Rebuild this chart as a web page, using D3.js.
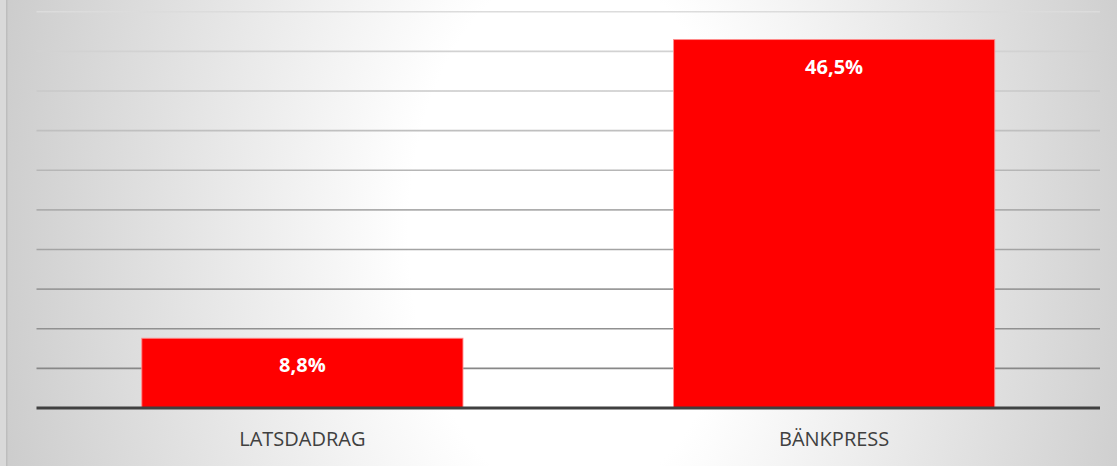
<!DOCTYPE html>
<html>
<head>
<meta charset="utf-8">
<script src="https://cdn.jsdelivr.net/npm/d3@7"></script>
<style>
  html, body { margin: 0; padding: 0; background: #dadada; }
  svg { display: block; }
</style>
</head>
<body>
<svg id="chart" width="1117" height="466"></svg>
<script>
const categories = ["LATSDADRAG", "BÄNKPRESS"];
const values = [8.8, 46.5];
const labels = ["8,8%", "46,5%"];
const gridTicks = [5, 10, 15, 20, 25, 30, 35, 40, 45, 50];

const W = 1117, H = 466;
const svg = d3.select("#chart");
const defs = svg.append("defs");

// background radial gradient
const bg = defs.append("radialGradient")
  .attr("id", "bg")
  .attr("gradientUnits", "userSpaceOnUse")
  .attr("cx", 575).attr("cy", 233).attr("r", 640)
  .attr("gradientTransform", "translate(575,233) scale(1,1.6) translate(-575,-233)");
bg.append("stop").attr("offset", "0").attr("stop-color", "#ffffff");
bg.append("stop").attr("offset", "0.26").attr("stop-color", "#ffffff");
bg.append("stop").attr("offset", "1").attr("stop-color", "#c6c6c6");

// gridline gradient (lighter at top, darker at bottom)
const gg = defs.append("linearGradient")
  .attr("id", "gridGrad")
  .attr("gradientUnits", "userSpaceOnUse")
  .attr("x1", 0).attr("y1", 10).attr("x2", 0).attr("y2", 370);
gg.append("stop").attr("offset", "0").attr("stop-color", "#dcdcdc");
gg.append("stop").attr("offset", "1").attr("stop-color", "#878787");

svg.append("rect").attr("x", 0).attr("y", 0).attr("width", 6).attr("height", H).attr("fill", "#d9d9d9");
svg.append("rect").attr("x", 6).attr("y", 0).attr("width", W - 6).attr("height", H).attr("fill", "url(#bg)");
svg.append("line").attr("x1", 6.75).attr("x2", 6.75).attr("y1", 0).attr("y2", H)
  .attr("stroke", "#bdbdbd").attr("stroke-width", 1.5);

const x = d3.scaleBand().domain(categories).range([36.5, 1100])
  .paddingInner(0.396).paddingOuter(0.198);
const y = d3.scaleLinear().domain([0, 50]).range([408, 11.8]);

// gridlines
svg.append("g").selectAll("line").data(gridTicks).join("line")
  .attr("x1", 36.5).attr("x2", 1100)
  .attr("y1", d => y(d)).attr("y2", d => y(d))
  .attr("stroke", "url(#gridGrad)")
  .attr("stroke-width", 1.6);

// bars
svg.append("g").selectAll("rect").data(values).join("rect")
  .attr("x", (d, i) => x(categories[i]))
  .attr("y", d => y(d))
  .attr("width", x.bandwidth())
  .attr("height", d => y(0) - y(d))
  .attr("fill", "#ff0000")
  .attr("stroke", "rgba(255,140,140,0.9)")
  .attr("stroke-width", 1);

// baseline
svg.append("line").attr("x1", 36.5).attr("x2", 1100)
  .attr("y1", y(0)).attr("y2", y(0))
  .attr("stroke", "#404040").attr("stroke-width", 3);

// data labels
svg.append("g").selectAll("text").data(values).join("text")
  .attr("x", (d, i) => x(categories[i]) + x.bandwidth() / 2)
  .attr("y", d => y(d) + 34)
  .attr("text-anchor", "middle")
  .attr("font-family", "'Open Sans', sans-serif")
  .attr("font-weight", "bold")
  .attr("font-size", 20)
  .attr("fill", "#ffffff")
  .text((d, i) => labels[i]);

// category axis labels
const xAxis = d3.axisBottom(x).tickSize(0).tickPadding(0);
const ax = svg.append("g").attr("transform", `translate(0,${y(0)})`).call(xAxis);
ax.select(".domain").remove();
ax.selectAll("text")
  .attr("dy", null)
  .attr("y", 38)
  .attr("font-family", "'Open Sans', sans-serif")
  .attr("font-size", 20)
  .attr("fill", "#404040");
</script>
</body>
</html>
